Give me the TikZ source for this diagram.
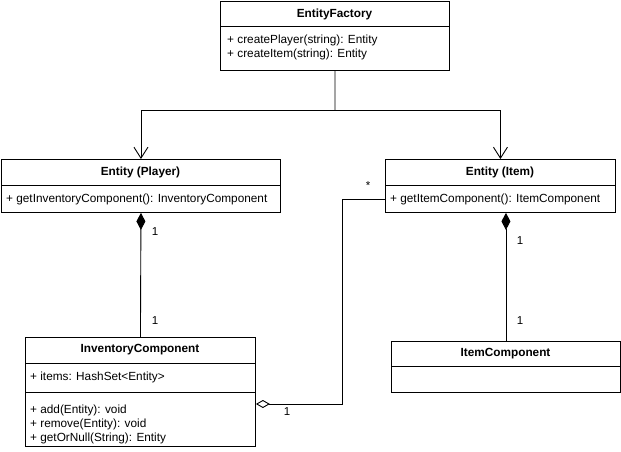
\documentclass[tikz,border=0pt]{standalone}
\usepackage{fontspec}
\setmainfont{Liberation Sans}
\usetikzlibrary{arrows.meta}
\begin{document}
\begin{tikzpicture}[x=1pt,y=-1pt,
  box/.style={draw,line width=0.9pt,anchor=north west,inner sep=0pt,fill=white},
  title/.style={font=\fontsize{11.8}{13}\selectfont\bfseries,inner sep=0pt},
  txt/.style={font=\fontsize{11.8}{13}\selectfont,anchor=west,inner sep=0pt},
  lab/.style={font=\fontsize{11.5}{13}\selectfont,inner sep=0pt},
  conn/.style={line width=0.9pt},
  inh/.style={conn,-{Straight Barb[length=11pt,width=14pt,line width=0.9pt]}},
  comp/.style={conn,{Diamond[length=17pt,width=9pt]}-},
  aggr/.style={conn,-{Diamond[open,length=14pt,width=8pt,line width=0.9pt]}}
]
\useasboundingbox (0,0) rectangle (621,451);
\fill[white] (0,0) rectangle (621,451);

% EntityFactory
\node[box,minimum width=229pt,minimum height=69pt] (ef) at (220,1) {};
\draw[line width=0.9pt] (220,26) -- (449,26);
\node[title] (eft) at (334.5,14) {EntityFactory};
\node[txt] (ef1) at (227,40) {+ createPlayer(string): Entity};
\node[txt] (ef2) at (227,54) {+ createItem(string): Entity};

% Entity (Player)
\node[box,minimum width=279pt,minimum height=53pt] (pl) at (1,159) {};
\draw[line width=0.9pt] (1,185) -- (280,185);
\node[title] (plt) at (140.5,172) {Entity (Player)};
\node[txt] (pl1) at (6,199) {+ getInventoryComponent(): InventoryComponent};

% Entity (Item)
\node[box,minimum width=230pt,minimum height=53pt] (it) at (385,159) {};
\draw[line width=0.9pt] (385,185) -- (615,185);
\node[title] (itt) at (500,172) {Entity (Item)};
\node[txt] (it1) at (390,199) {+ getItemComponent(): ItemComponent};

% InventoryComponent
\node[box,minimum width=230pt,minimum height=109pt] (inv) at (25,337) {};
\draw[line width=0.9pt] (25,363) -- (255,363);
\draw[line width=0.9pt] (25,392) -- (255,392);
\node[title] (invt) at (140,350) {InventoryComponent};
\node[txt] (inv1) at (30,377) {+ items: HashSet<Entity>};
\node[txt] (inv2) at (30,410) {+ add(Entity): void};
\node[txt] (inv3) at (30,424) {+ remove(Entity): void};
\node[txt] (inv4) at (30,438) {+ getOrNull(String): Entity};

% ItemComponent
\node[box,minimum width=229pt,minimum height=51pt] (ic) at (391,341) {};
\draw[line width=0.9pt] (391,366) -- (620,366);
\node[title] (ict) at (505.5,354) {ItemComponent};

% arrows from factory
\coordinate (split) at (335,110);
\draw[conn] (ef.south) -- (split);
\draw[inh] (split) -| (pl.north);
\draw[inh] (split) -| (it.north);

% compositions
\draw[comp] (pl.south) -- (inv.north);
\node[lab] (l1) at (155,232) {1};
\node[lab] (l2) at (155,321) {1};
\draw[comp] (it.south -| ic.north) -- (ic.north);
\node[lab] (l3) at (520,241) {1};
\node[lab] (l4) at (520,321) {1};

% aggregation
\coordinate (c1) at (342,199);
\coordinate (c2) at (342,404);
\draw[aggr] (it.west |- c1) -- (c1) -- (c2) -- (inv.east |- c2);
\node[lab] (l5) at (287,412) {1};
\node[lab] (l6) at (368,186) {*};
\end{tikzpicture}
\end{document}
